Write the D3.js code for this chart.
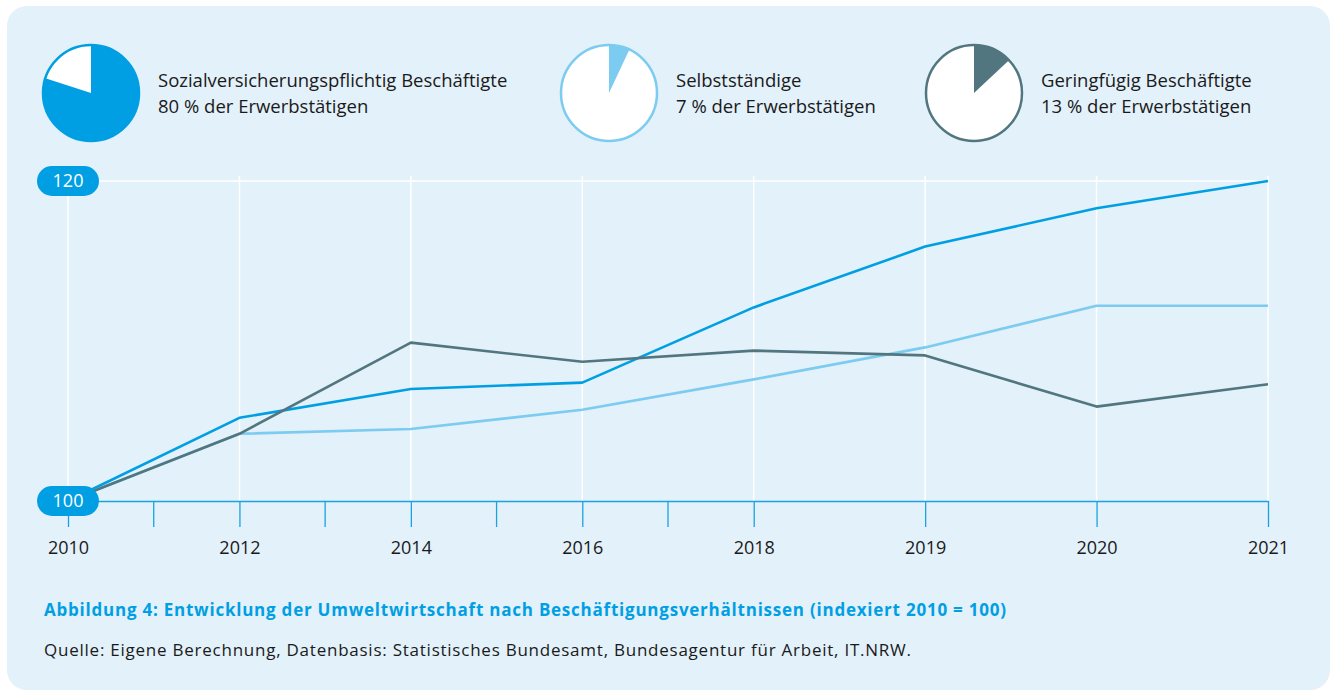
<!DOCTYPE html>
<html>
<head>
<meta charset="utf-8">
<script src="https://cdn.jsdelivr.net/npm/d3@7"></script>
<style>
  html, body { margin: 0; padding: 0; background: #fff; }
  svg { display: block; font-family: "Open Sans", Roboto, sans-serif; }
</style>
</head>
<body>
<svg id="chart" width="1333" height="691"></svg>
<script>
// Years shown on the axis (equally spaced), plus unlabeled in-between ticks
const years = ["2010", "2012", "2014", "2016", "2018", "2019", "2020", "2021"];
const minorTicks = [["2010", "2012"], ["2012", "2014"], ["2014", "2016"], ["2016", "2018"]];

// Index values (2010 = 100)
const sozialversichert = [100, 105.2, 107.0, 107.4, 112.1, 115.9, 118.3, 120.0];
const selbststaendig   = [100, 104.2, 104.5, 105.7, 107.6, 109.6, 112.2, 112.2];
const geringfuegig     = [100, 104.2, 109.9, 108.7, 109.4, 109.1, 105.9, 107.3];

const yTicks = [100, 120];

// Legend: share of employed persons
const legendNames = ["Sozialversicherungspflichtig Beschäftigte", "Selbstständige", "Geringfügig Beschäftigte"];
const legendShares = [80, 7, 13];
const legendLabels = ["80 % der Erwerbstätigen", "7 % der Erwerbstätigen", "13 % der Erwerbstätigen"];

const colors = ["#009fe3", "#7ccbf0", "#52767f"];
const series = [sozialversichert, selbststaendig, geringfuegig];

const svg = d3.select("#chart");

// Panel background
svg.append("rect")
  .attr("x", 7).attr("y", 6)
  .attr("width", 1323).attr("height", 684)
  .attr("rx", 20)
  .attr("fill", "#e3f1fa");

// Scales
const x = d3.scalePoint().domain(years).range([68, 1268]);
const y = d3.scaleLinear().domain([100, 120]).range([501, 181]);

// Gridlines
const grid = svg.append("g").attr("stroke", "#fff").attr("stroke-width", 1.5);
grid.selectAll("line.v").data(years).join("line")
  .attr("class", "v")
  .attr("x1", d => x(d)).attr("x2", d => x(d))
  .attr("y1", 176).attr("y2", y(100));
grid.append("line")
  .attr("x1", x(years[0])).attr("x2", x(years[years.length - 1]))
  .attr("y1", y(120)).attr("y2", y(120));

// x axis: baseline with long ticks
const xAxis = svg.append("g")
  .attr("transform", `translate(0,${y(100)})`)
  .call(d3.axisBottom(x).tickSize(26).tickPadding(14).tickSizeOuter(0));
xAxis.select(".domain").attr("stroke", "#1ba3df").attr("stroke-width", 1.6);
xAxis.selectAll(".tick line").attr("stroke", "#1ba3df").attr("stroke-width", 1.3);
xAxis.selectAll(".tick text")
  .attr("fill", "#1a1a1a")
  .style("font-size", "18px")
  .style("font-family", "'Open Sans', sans-serif");

xAxis.selectAll("line.minor").data(minorTicks).join("line")
  .attr("class", "minor")
  .attr("x1", d => (x(d[0]) + x(d[1])) / 2)
  .attr("x2", d => (x(d[0]) + x(d[1])) / 2)
  .attr("y1", 0).attr("y2", 26)
  .attr("stroke", "#1ba3df").attr("stroke-width", 1.3);

// Lines
const line = d3.line()
  .x((d, i) => x(years[i]))
  .y(d => y(d));

svg.append("g").selectAll("path").data(series).join("path")
  .attr("d", d => line(d))
  .attr("fill", "none")
  .attr("stroke", (d, i) => colors[i])
  .attr("stroke-width", 2.6)
  .attr("stroke-linejoin", "round");

// y labels as pills
const pills = svg.append("g").selectAll("g").data(yTicks).join("g")
  .attr("transform", d => `translate(${x(years[0])},${y(d)})`);
pills.append("rect")
  .attr("x", -31).attr("y", -15)
  .attr("width", 62).attr("height", 30)
  .attr("rx", 15)
  .attr("fill", "#009fe3");
pills.append("text")
  .attr("text-anchor", "middle")
  .attr("dy", "0.36em")
  .attr("fill", "#fff")
  .style("font-size", "18px")
  .text(d => d);

// Legend pies
const legendX = [91, 609, 974];
const pie = d3.pie().sort(null).value(d => d);
const arc = d3.arc().innerRadius(0).outerRadius(48);

const legend = svg.append("g").selectAll("g").data(legendShares).join("g")
  .attr("transform", (d, i) => `translate(${legendX[i]},93)`);

legend.append("circle")
  .attr("r", 48)
  .attr("fill", "#fff");
legend.append("path")
  .attr("d", d => arc(pie([d, 100 - d])[0]))
  .attr("fill", (d, i) => colors[i]);
legend.append("circle")
  .attr("r", 48)
  .attr("fill", "none")
  .attr("stroke", (d, i) => colors[i])
  .attr("stroke-width", 2.5);

legend.append("text")
  .attr("x", 67).attr("y", -6)
  .attr("fill", "#1a1a1a")
  .style("font-size", "18.5px")
  .text((d, i) => legendNames[i]);
legend.append("text")
  .attr("x", 67).attr("y", 20)
  .attr("fill", "#1a1a1a")
  .style("font-size", "18.5px")
  .text((d, i) => legendLabels[i]);

// Caption and source
svg.append("text")
  .attr("x", 44).attr("y", 616)
  .attr("fill", "#009fe3")
  .attr("textLength", 962)
  .attr("lengthAdjust", "spacing")
  .style("font-size", "17px")
  .style("font-weight", "bold")
  .text("Abbildung 4: Entwicklung der Umweltwirtschaft nach Beschäftigungsverhältnissen (indexiert 2010 = 100)");

svg.append("text")
  .attr("x", 44).attr("y", 656)
  .attr("fill", "#1a1a1a")
  .attr("textLength", 867)
  .attr("lengthAdjust", "spacing")
  .style("font-size", "17px")
  .text("Quelle: Eigene Berechnung, Datenbasis: Statistisches Bundesamt, Bundesagentur für Arbeit, IT.NRW.");
</script>
</body>
</html>
